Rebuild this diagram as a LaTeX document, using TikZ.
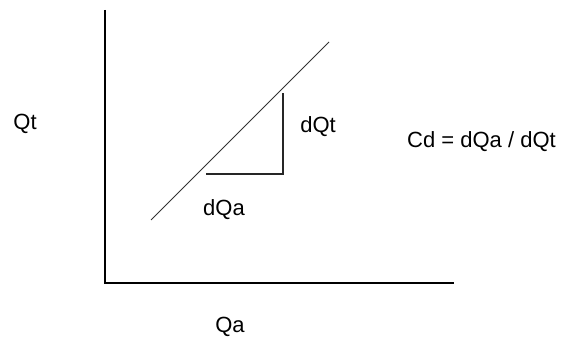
\documentclass[tikz,border=0pt]{standalone}
\usepackage{fontspec}
\setmainfont{Liberation Sans}
\usepackage{tikz}

\begin{document}
\begin{tikzpicture}[x=1pt,y=1pt,
  lbl/.style={font=\fontsize{22}{25}\selectfont,inner sep=0pt}]
\useasboundingbox (0,0) rectangle (566,338);
% axes
\coordinate (O) at (105,55);
\coordinate (ytop) at (105,328);
\coordinate (xend) at (454,55);
\draw[line width=1.6pt] (ytop) -- (O) -- (xend);
% line and slope triangle
\coordinate (p1) at (151,118);
\coordinate (p2) at (329,296);
\draw[line width=0.9pt,black!80] (p1) -- (p2);
\coordinate (ta) at (206,164);
\coordinate (tb) at (283,164);
\coordinate (tc) at (283,245);
\draw[line width=1.5pt,black!85] (ta) -- (tb) -- (tc);
% labels
\node[lbl] (Qt) at (25,214) {Qt};
\node[lbl] (Qa) at (230,11) {Qa};
\node[lbl] (dQt) at (318,211) {dQt};
\node[lbl] (dQa) at (224,128) {dQa};
\node[lbl,anchor=west] (Cd) at (407,196) {Cd = dQa / dQt};
\end{tikzpicture}
\end{document}
